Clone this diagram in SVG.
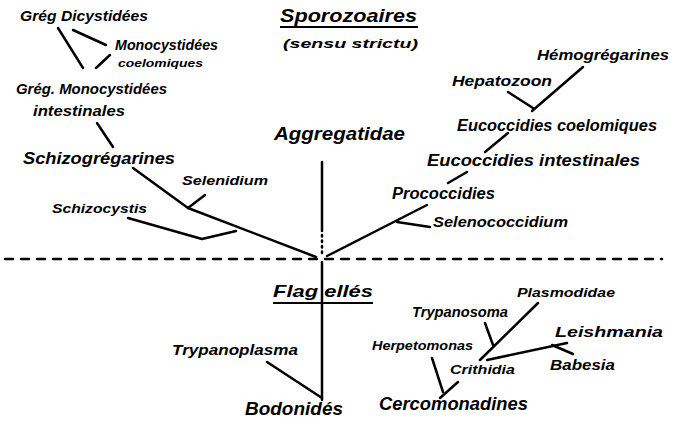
<svg xmlns="http://www.w3.org/2000/svg" width="679" height="424" viewBox="0 0 679 424">
<style>
text{font-family:"Liberation Sans",Arial,sans-serif;font-style:italic;font-weight:bold;fill:#000}
.c line,.c polyline{stroke:#000;stroke-width:2.5;fill:none;stroke-linecap:round;stroke-linejoin:round}
</style>
<rect width="679" height="424" fill="#fff"/>
<g id="title-sporo">
<text x="280" y="22" font-size="18" textLength="137" lengthAdjust="spacingAndGlyphs">Sporozoaires</text>
<line x1="280" y1="27" x2="418" y2="27" stroke="#000" stroke-width="2"/>
<text x="283" y="48" font-size="13" textLength="135" lengthAdjust="spacingAndGlyphs">(sensu strictu)</text>
</g>
<g id="n-dicyst"><text x="20" y="21" font-size="15" textLength="128" lengthAdjust="spacingAndGlyphs">Grég Dicystidées</text></g>
<g id="n-monocoel"><text x="115" y="50" font-size="14" textLength="103" lengthAdjust="spacingAndGlyphs">Monocystidées</text>
<text x="118" y="67" font-size="11" textLength="85" lengthAdjust="spacingAndGlyphs">coelomiques</text></g>
<g id="n-monoint"><text x="16" y="94" font-size="15" textLength="151" lengthAdjust="spacingAndGlyphs">Grég. Monocystidées</text>
<text x="33" y="116" font-size="15" textLength="92" lengthAdjust="spacingAndGlyphs">intestinales</text></g>
<g id="n-schizogreg"><text x="23" y="164" font-size="16" textLength="152" lengthAdjust="spacingAndGlyphs">Schizogrégarines</text></g>
<g id="n-selenidium"><text x="182" y="185" font-size="13" textLength="86" lengthAdjust="spacingAndGlyphs">Selenidium</text></g>
<g id="n-schizocystis"><text x="52" y="213" font-size="13" textLength="95" lengthAdjust="spacingAndGlyphs">Schizocystis</text></g>
<g id="n-aggreg"><text x="274" y="140" font-size="18" textLength="131" lengthAdjust="spacingAndGlyphs">Aggregatidae</text></g>
<g id="n-hemog"><text x="537" y="60" font-size="15" textLength="132" lengthAdjust="spacingAndGlyphs">Hémogrégarines</text></g>
<g id="n-hepato"><text x="452" y="86" font-size="15" textLength="100" lengthAdjust="spacingAndGlyphs">Hepatozoon</text></g>
<g id="n-eucoel"><text x="457" y="131" font-size="16" textLength="200" lengthAdjust="spacingAndGlyphs">Eucoccidies coelomiques</text></g>
<g id="n-euint"><text x="427" y="166" font-size="17" textLength="213" lengthAdjust="spacingAndGlyphs">Eucoccidies intestinales</text></g>
<g id="n-prococ"><text x="392" y="199" font-size="16" textLength="103" lengthAdjust="spacingAndGlyphs">Prococcidies</text></g>
<g id="n-selenococ"><text x="433" y="227" font-size="14" textLength="135" lengthAdjust="spacingAndGlyphs">Selenococcidium</text></g>
<g id="title-flag">
<text x="273" y="297" font-size="17" textLength="100" lengthAdjust="spacingAndGlyphs">Flag ellés</text>
<line x1="273" y1="303" x2="373" y2="303" stroke="#000" stroke-width="2"/>
</g>
<g id="n-trypanoplasma"><text x="172" y="355" font-size="15" textLength="126" lengthAdjust="spacingAndGlyphs">Trypanoplasma</text></g>
<g id="n-bodonides"><text x="245" y="415" font-size="18" textLength="98" lengthAdjust="spacingAndGlyphs">Bodonidés</text></g>
<g id="n-plasmodidae"><text x="517" y="297" font-size="13" textLength="98" lengthAdjust="spacingAndGlyphs">Plasmodidae</text></g>
<g id="n-trypanosoma"><text x="412" y="317" font-size="14" textLength="96" lengthAdjust="spacingAndGlyphs">Trypanosoma</text></g>
<g id="n-leishmania"><text x="555" y="337" font-size="15" textLength="108" lengthAdjust="spacingAndGlyphs">Leishmania</text></g>
<g id="n-herpeto"><text x="372" y="350" font-size="12" textLength="101" lengthAdjust="spacingAndGlyphs">Herpetomonas</text></g>
<g id="n-babesia"><text x="550" y="370" font-size="14" textLength="65" lengthAdjust="spacingAndGlyphs">Babesia</text></g>
<g id="n-crithidia"><text x="450" y="374" font-size="13" textLength="65" lengthAdjust="spacingAndGlyphs">Crithidia</text></g>
<g id="n-cercomon"><text x="379" y="410" font-size="18" textLength="149" lengthAdjust="spacingAndGlyphs">Cercomonadines</text></g>
<g id="connectors" class="c">
<line x1="58" y1="28" x2="83" y2="68"/>
<line x1="73" y1="30" x2="106" y2="45"/>
<line x1="110" y1="55" x2="96" y2="68"/>
<line x1="97" y1="123" x2="113" y2="147"/>
<polyline points="133,168 188,208 316,257"/>
<line x1="188" y1="208" x2="205" y2="195"/>
<polyline points="128,218 202,239 236,231"/>
<line x1="322" y1="162" x2="322" y2="231"/>
<line x1="322" y1="235" x2="322" y2="257" stroke-dasharray="1.5 4"/>
<line x1="322" y1="262" x2="322" y2="400"/>
<line x1="327" y1="256" x2="427" y2="205"/>
<line x1="397" y1="222" x2="430" y2="227"/>
<line x1="448" y1="183" x2="467" y2="172"/>
<line x1="485" y1="152" x2="508" y2="133"/>
<line x1="508" y1="92" x2="533" y2="108"/>
<line x1="583" y1="67" x2="532" y2="111"/>
<line x1="5" y1="259" x2="662" y2="259" stroke-width="3" stroke-dasharray="8 8" stroke-linecap="butt"/>
<line x1="267" y1="362" x2="322" y2="398"/>
<line x1="538" y1="303" x2="480" y2="360"/>
<line x1="485" y1="323" x2="493" y2="345"/>
<line x1="487" y1="360" x2="567" y2="343"/>
<line x1="552" y1="345" x2="573" y2="354"/>
<line x1="432" y1="358" x2="443" y2="392"/>
<line x1="458" y1="382" x2="440" y2="398"/>
</g>
</svg>
